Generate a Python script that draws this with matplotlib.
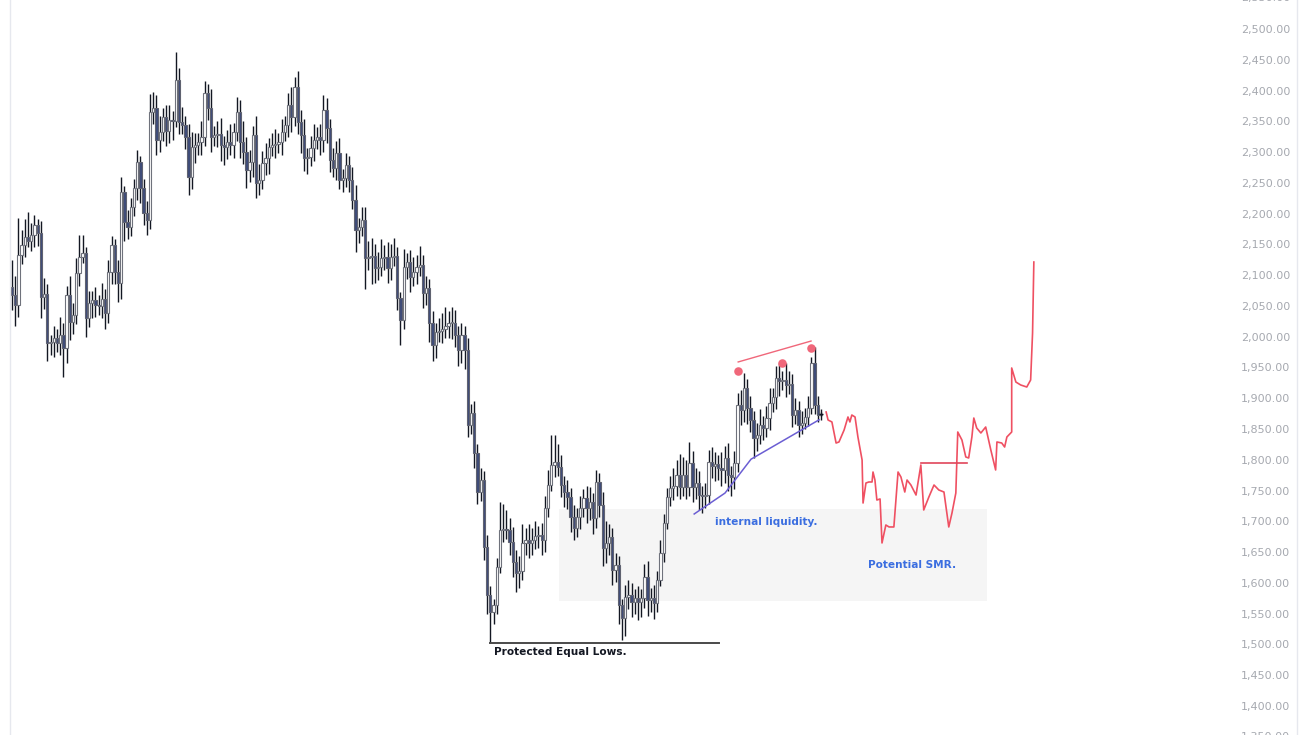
import numpy as np
import matplotlib
matplotlib.use("Agg")
import matplotlib.pyplot as plt
from matplotlib.lines import Line2D
from matplotlib.patches import Rectangle
import matplotlib.transforms as mtransforms

# ---------------- data ----------------
first_open = 2080

close_a = [2068, 2052, 2133, 2149, 2162, 2155, 2165, 2182, 2168, 2065,
           2070, 1990, 1992, 1998, 1990, 2002, 1982, 2068, 2024, 2035,
           2103, 2130, 2136, 2030, 2055, 2060, 2052, 2050, 2062, 2038,
           2105, 2149, 2105, 2087, 2235, 2186, 2178, 2211, 2242, 2284,
           2242, 2201, 2190]
close_b = [2365, 2372, 2320, 2333, 2357, 2335, 2352, 2350, 2417, 2349,
           2344, 2325, 2260, 2308, 2311, 2316, 2325, 2396, 2372, 2325,
           2328, 2330, 2311, 2309, 2316, 2311, 2333, 2365, 2316, 2300,
           2271, 2284, 2328, 2250, 2255, 2282, 2290, 2308, 2311, 2313,
           2316, 2333, 2344, 2376, 2357, 2406, 2349, 2328, 2290, 2292,
           2306, 2320, 2325, 2320, 2368, 2339, 2287, 2274]
close_c = [2298, 2255, 2258, 2279, 2255, 2222, 2173, 2178, 2190, 2128,
           2130, 2131, 2112, 2113, 2128, 2129, 2112, 2130, 2131, 2063,
           2027, 2113, 2121, 2097, 2105, 2113, 2117, 2071, 2079, 2022,
           1986, 2007, 2010, 2013, 2018, 2022, 2023, 2003, 1978, 2003,
           1978]
close_d = [1857, 1876, 1811, 1748, 1767, 1658, 1580, 1553, 1564, 1626,
           1686, 1688, 1686, 1666, 1634, 1616, 1619, 1665, 1670, 1665,
           1670, 1676, 1678, 1670, 1722, 1759, 1792, 1796, 1788, 1759,
           1748, 1740, 1707, 1689, 1707, 1722, 1738, 1722, 1731, 1705,
           1764, 1727, 1657, 1665, 1675, 1621, 1629, 1564, 1543, 1577,
           1580, 1569, 1575, 1569, 1575, 1610, 1572, 1576, 1567, 1605,
           1649, 1697]
close_e = [1740, 1754, 1757, 1775, 1756, 1775, 1756, 1795, 1756, 1762,
           1743, 1741, 1743, 1796, 1790, 1793, 1787, 1783, 1803, 1775,
           1772, 1795, 1889, 1881, 1917, 1884, 1865, 1835, 1840, 1857,
           1852, 1868, 1892, 1902, 1933, 1928, 1930, 1922, 1924, 1873,
           1881, 1857, 1860, 1870, 1884, 1957, 1889, 1873, 1874]

upper_a = [45, 30, 60, 25, 30, 40, 20, 15, 10, 20,
           25, 15, 10, 20, 15, 30, 20, 15, 30, 20,
           25, 35, 30, 10, 20, 15, 20, 15, 25, 15,
           20, 15, 10, 20, 25, 10, 20, 15, 15, 20,
           10, 15, 20]
lower_a = [25, 35, 20, 15, 20, 10, 15, 20, 20, 35,
           20, 30, 20, 25, 15, 20, 47, 25, 30, 20,
           15, 20, 10, 30, 15, 25, 20, 15, 20, 25,
           15, 20, 20, 30, 25, 30, 20, 15, 15, 20,
           25, 20, 25]
upper_b = [30, 25, 20, 25, 15, 20, 25, 15, 46, 20,
           25, 15, 20, 25, 20, 15, 25, 20, 15, 30,
           15, 20, 25, 15, 20, 30, 15, 25, 20, 35,
           25, 20, 15, 30, 25, 20, 25, 15, 20, 25,
           15, 20, 15, 20, 30, 16, 25, 20, 25, 15,
           20, 25, 15, 20, 25, 20, 15, 20]
lower_b = [15, 20, 25, 20, 15, 25, 20, 30, 10, 20,
           15, 20, 30, 20, 25, 15, 20, 15, 20, 25,
           15, 20, 25, 30, 20, 15, 20, 15, 25, 20,
           30, 20, 25, 25, 20, 15, 20, 25, 15, 20,
           15, 20, 15, 20, 25, 15, 20, 30, 20, 25,
           15, 20, 15, 25, 20, 25, 20, 15]
upper_c = [20, 25, 15, 20, 15, 20, 25, 15, 20, 20,
           25, 30, 20, 25, 30, 20, 25, 20, 30, 15,
           10, 30, 15, 20, 25, 20, 30, 15, 20, 15,
           20, 15, 20, 25, 30, 20, 25, 20, 15, 20,
           15]
lower_c = [20, 15, 20, 15, 20, 15, 35, 20, 15, 50,
           20, 45, 25, 20, 15, 20, 25, 20, 15, 20,
           40, 15, 20, 25, 15, 20, 15, 25, 20, 30,
           25, 20, 15, 20, 15, 20, 25, 20, 25, 20,
           30]
upper_d = [20, 15, 20, 15, 20, 15, 20, 15, 10, 15,
           45, 40, 30, 20, 25, 20, 25, 30, 20, 25,
           20, 25, 15, 20, 20, 25, 49, 45, 30, 20,
           15, 20, 15, 20, 15, 20, 15, 20, 25, 15,
           20, 15, 20, 35, 20, 15, 20, 15, 10, 20,
           25, 20, 15, 20, 15, 20, 25, 15, 20, 15,
           20, 15]
lower_d = [20, 15, 25, 20, 15, 20, 30, 51, 20, 15,
           10, 20, 15, 20, 25, 30, 25, 15, 20, 25,
           20, 15, 20, 25, 20, 15, 10, 20, 15, 20,
           25, 20, 25, 20, 15, 20, 15, 25, 20, 25,
           15, 20, 30, 25, 20, 25, 20, 30, 36, 30,
           20, 25, 20, 30, 25, 15, 25, 20, 25, 15,
           10, 15]
upper_e = [15, 20, 30, 25, 35, 30, 25, 34, 20, 25,
           20, 15, 20, 20, 25, 20, 15, 25, 20, 25,
           15, 20, 20, 25, 24, 15, 20, 15, 20, 25,
           15, 20, 25, 15, 20, 25, 15, 27, 20, 15,
           20, 15, 20, 15, 20, 10, 26, 15, 8]
lower_e = [10, 15, 20, 15, 20, 15, 20, 15, 25, 20,
           25, 28, 20, 15, 20, 25, 20, 25, 20, 25,
           30, 20, 15, 25, 20, 25, 20, 32, 20, 15,
           20, 15, 20, 15, 20, 25, 15, 20, 15, 20,
           15, 20, 15, 10, 15, 10, 15, 12, 8]

# projected path (bar index, price)
proj_x = [253.6, 254.2, 255.4, 256.7, 257.6, 259.2, 260.4, 261.0, 261.6, 262.6,
          263.5, 264.8, 265.1, 266.0, 266.9, 267.9, 268.2, 268.8, 269.4, 270.4,
          271.0, 272.2, 273.2, 274.7, 276.0, 276.9, 278.1, 278.8, 280.0, 281.6,
          283.1, 284.0, 285.6, 287.2, 288.7, 290.3, 291.8, 292.8, 294.0, 294.6,
          295.9, 297.1, 298.0, 299.0, 299.6, 300.5, 301.8, 303.3, 304.9, 306.4,
          306.8, 308.3, 309.2, 309.9, 311.4, 311.4, 312.7, 314.2, 316.1, 317.3,
          317.9, 318.3]
proj_y = [1877.7, 1864.7, 1861.5, 1827.3, 1829.0, 1848.5, 1869.6, 1861.5, 1872.8, 1869.6,
          1837.1, 1799.7, 1729.8, 1762.3, 1764.0, 1764.0, 1780.2, 1767.2, 1734.7, 1736.4,
          1664.9, 1694.1, 1690.9, 1690.9, 1780.2, 1772.1, 1747.7, 1767.2, 1759.1, 1742.8,
          1791.6, 1718.5, 1739.6, 1759.1, 1751.0, 1747.7, 1690.9, 1713.6, 1746.1, 1845.2,
          1832.2, 1804.6, 1803.0, 1837.1, 1867.9, 1851.7, 1843.6, 1853.3, 1816.0, 1783.5,
          1829.0, 1827.3, 1820.8, 1837.1, 1845.2, 1949.2, 1926.4, 1921.6, 1918.3, 1929.7,
          2006.1, 2121.4]

# annotation anchors (bar index, price)
top_line_x = [226.2, 248.9]
top_line_y = [1959, 1993]
peak_x = [226.2, 239.9, 248.9]
peak_y = [1944, 1957, 1982]
support_x = [212.5, 222.1, 230.2, 251.4]
support_y = [1712, 1746, 1801, 1865]
zone_x = [170.5, 303.6]
zone_y = [1570.6, 1720.0]
eql_x = [149.0, 220.3]
eql_y = 1502
level_x = [283.1, 297.4]
level_y = 1795
price_ticks = list(range(1400, 2501, 50))

# ---------------- build OHLC ----------------
close = close_a + close_b + close_c + close_d + close_e
upper = upper_a + upper_b + upper_c + upper_d + upper_e
lower = lower_a + lower_b + lower_c + lower_d + lower_e
n = min(len(close), len(upper), len(lower))
c = np.array(close[:n], dtype=float)
o = np.concatenate([[first_open], c[:-1]])
top = np.maximum(o, c)
bot = np.minimum(o, c)
hi = top + np.array(upper[:n])
lo = bot - np.array(lower[:n])
x = np.arange(n)

# ---------------- figure ----------------
W, H = 1307, 735
fig = plt.figure(figsize=(W / 100, H / 100), dpi=100)
fig.patch.set_facecolor("white")
ax_right_px = 1235
ax = fig.add_axes([0, 0, ax_right_px / W, 1])
ax.set_facecolor("white")

spacing = (821 - 12) / (n - 1)
ax.set_xlim((0 - 12) / spacing, (ax_right_px - 12) / spacing)
ax.set_ylim(1352.9, 2547.1)
for s in ax.spines.values():
    s.set_visible(False)
ax.set_xticks([])
ax.yaxis.tick_right()
ax.set_yticks(price_ticks)
ax.set_yticklabels([f"{v:,.2f}" for v in price_ticks])
ax.tick_params(axis="y", length=0, pad=4.3, labelsize=8, labelcolor="#a6a9b0")

# zone
ax.add_patch(Rectangle((zone_x[0], zone_y[0]), zone_x[1] - zone_x[0], zone_y[1] - zone_y[0],
                       facecolor="#f5f5f5", edgecolor="none", zorder=1))

# candles
ax.vlines(x, lo, hi, color="#131722", lw=1.0, zorder=3)
upm = c >= o
h = np.maximum(top - bot, 1.6)
ax.bar(x[upm], h[upm], bottom=bot[upm], width=0.72, color="white",
       edgecolor="#6f727c", linewidth=0.8, zorder=4)
ax.bar(x[~upm], h[~upm], bottom=bot[~upm], width=0.72, color="#3e4b79",
       edgecolor="#5f6270", linewidth=0.8, zorder=4)

# annotations
ax.plot(eql_x, [eql_y, eql_y], color="#4a4a4a", lw=1.4, zorder=5)
ax.text(eql_x[0] + 1.0, eql_y - 15, "Protected Equal Lows.", fontsize=7.6,
        fontweight="bold", color="#131722", va="center", ha="left", zorder=6)
ax.plot(support_x, support_y, color="#6b5ed3", lw=1.1, zorder=5)
ax.plot(top_line_x, top_line_y, color="#f0677a", lw=1.0, zorder=5)
ax.scatter(peak_x, peak_y, s=38, color="#f0677a", zorder=6, linewidths=0)
ax.plot(proj_x, proj_y, color="#ef5062", lw=1.2, zorder=5)
ax.plot(level_x, [level_y, level_y], color="#e0455a", lw=1.2, zorder=5)
ax.text(219.0, 1699, "internal liquidity.", fontsize=7.6, fontweight="bold",
        color="#3b6ee0", va="center", ha="left", zorder=6)
ax.text(266.6, 1629, "Potential SMR.", fontsize=7.6, fontweight="bold",
        color="#3b6ee0", va="center", ha="left", zorder=6)

# small doji marker at last price
ax.plot([n - 1 + 0.0], [close[n - 1]], marker="+", ms=3, color="#131722", zorder=6)

# partial labels at the very top / bottom
trans = mtransforms.blended_transform_factory(ax.transAxes, ax.transData)
for v in (2550, 1350):
    ax.text(1.0 + 4.3 / 72 * 100 / ax_right_px, v, f"{v:,.2f}", transform=trans,
            fontsize=8, color="#a6a9b0", va="center", ha="left", clip_on=False)

# borders
fig.add_artist(Line2D([10 / W, 10 / W], [0, 1], color="#e6e8ee", lw=1.0))
fig.add_artist(Line2D([1297 / W, 1297 / W], [0, 1], color="#e6e8ee", lw=1.0))

fig.savefig("out.png", dpi=100, facecolor="white")
